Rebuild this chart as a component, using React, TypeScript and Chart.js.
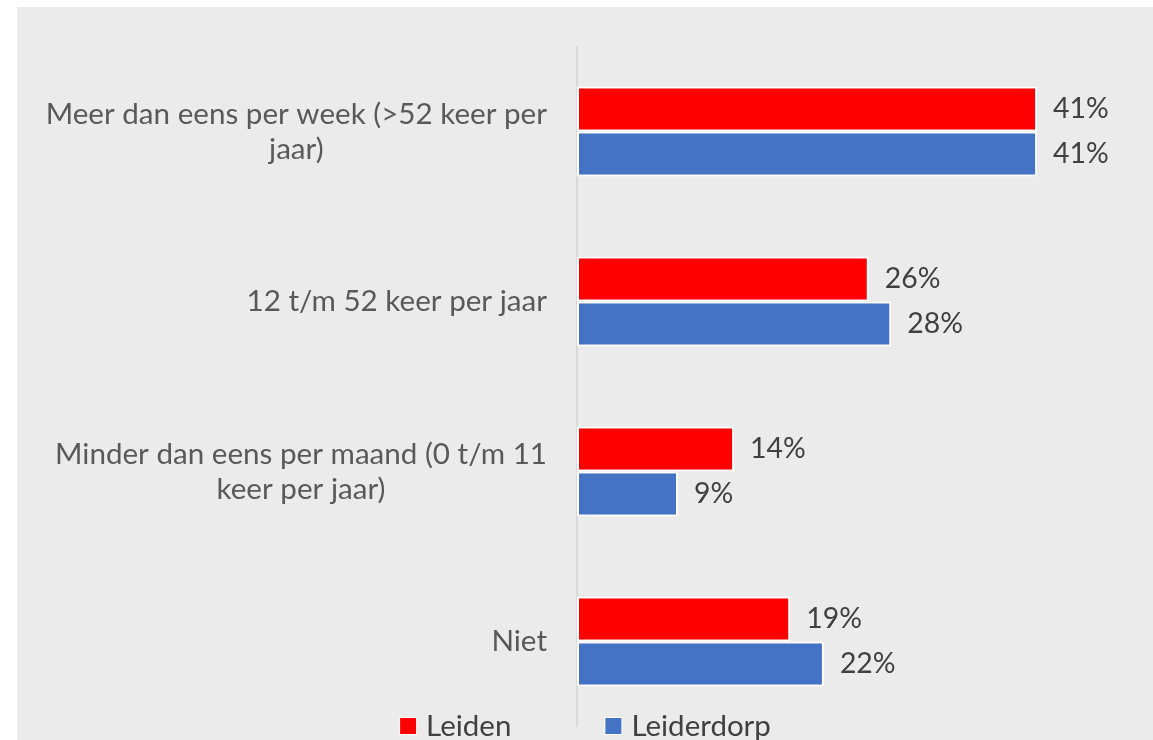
import { useEffect, useRef } from "react";
import { Chart, registerables } from "chart.js";

Chart.register(...registerables);

const categories: string[][] = [
  ["Meer dan eens per week (>52 keer per", "jaar)"],
  ["12 t/m 52 keer per jaar"],
  ["Minder dan eens per maand (0 t/m 11", "keer per jaar)"],
  ["Niet"],
];
const seriesNames = ["Leiden", "Leiderdorp"];
const leiden = [41, 26, 14, 19];
const leiderdorp = [41, 28, 9, 22];
const seriesColors = ["#ff0000", "#4472c4"];

const FONT = "Lato, 'Open Sans', sans-serif";
const CAT_SIZE = 29.6;
const VAL_SIZE = 28.4;
const LEG_SIZE = 29.5;

const drawPlugin = {
  id: "customText",
  afterDraw(chart: any) {
    const { ctx, chartArea } = chart;
    const yScale = chart.scales.y;
    ctx.save();
    // category labels: block right-aligned, lines centered
    ctx.font = `${CAT_SIZE}px ${FONT}`;
    ctx.fillStyle = "#595959";
    ctx.textAlign = "center";
    ctx.textBaseline = "middle";
    (chart.data.labels as any[]).forEach((lab, i) => {
      const lines: string[] = Array.isArray(lab) ? lab : [lab];
      const w = Math.max(...lines.map((l) => ctx.measureText(l).width));
      const cx = chartArea.left - 30 - w / 2;
      const cy = yScale.getPixelForTick(i);
      lines.forEach((l, j) => {
        ctx.fillText(l, cx, cy + (j - (lines.length - 1) / 2) * 35);
      });
    });
    // value labels
    ctx.font = `${VAL_SIZE}px ${FONT}`;
    ctx.fillStyle = "#404040";
    ctx.textAlign = "left";
    chart.data.datasets.forEach((ds: any, d: number) => {
      const meta = chart.getDatasetMeta(d);
      meta.data.forEach((bar: any, i: number) => {
        ctx.fillText(`${ds.data[i]}%`, bar.x + 16, bar.y);
      });
    });
    // legend
    ctx.font = `${LEG_SIZE}px ${FONT}`;
    const box = 18;
    const gapText = 9;
    const gapItem = 93;
    const widths = chart.data.datasets.map(
      (ds: any) => box + gapText + ctx.measureText(ds.label).width
    );
    const total = widths.reduce((a: number, b: number) => a + b, 0) + gapItem * (widths.length - 1);
    let x = chart.width / 2 - total / 2;
    const ly = 719;
    chart.data.datasets.forEach((ds: any, d: number) => {
      ctx.fillStyle = "#ffffff";
      ctx.fillRect(x, ly - box / 2, box, box);
      ctx.fillStyle = ds.backgroundColor;
      ctx.fillRect(x + 1, ly - box / 2 + 1, box - 2, box - 2);
      ctx.fillStyle = "#404040";
      ctx.textAlign = "left";
      ctx.fillText(ds.label, x + box + gapText, ly);
      x += widths[d] + gapItem;
    });
    ctx.restore();
  },
};

export default function App() {
  const ref = useRef<HTMLCanvasElement | null>(null);
  useEffect(() => {
    if (!ref.current) return;
    const chart = new Chart(ref.current, {
      type: "bar",
      data: {
        labels: categories as any,
        datasets: [leiden, leiderdorp].map((vals, k) => ({
          label: seriesNames[k],
          data: vals,
          backgroundColor: seriesColors[k],
          borderColor: "#ffffff",
          borderWidth: 2,
          borderSkipped: false,
          categoryPercentage: 0.53,
          barPercentage: 1,
        })),
      },
      options: {
        indexAxis: "y",
        responsive: true,
        maintainAspectRatio: false,
        animation: false,
        layout: { padding: { top: 39.5, bottom: 13.5, left: 0, right: 71 } },
        plugins: { legend: { display: false }, tooltip: { enabled: false } },
        scales: {
          x: { display: false, min: 0, max: 45 },
          y: {
            display: true,
            grid: { display: false },
            ticks: { display: false },
            border: { display: true, color: "#d9d9d9", width: 2 },
            afterFit: (s: any) => {
              s.width = 560;
            },
          },
        },
      },
      plugins: [drawPlugin],
    });
    return () => chart.destroy();
  }, []);
  return (
    <div
      style={{
        position: "absolute",
        left: 17,
        top: 7,
        width: 1136,
        height: 733,
        background: "#ebebeb",
      }}
    >
      <canvas ref={ref} style={{ display: "block" }} />
    </div>
  );
}
